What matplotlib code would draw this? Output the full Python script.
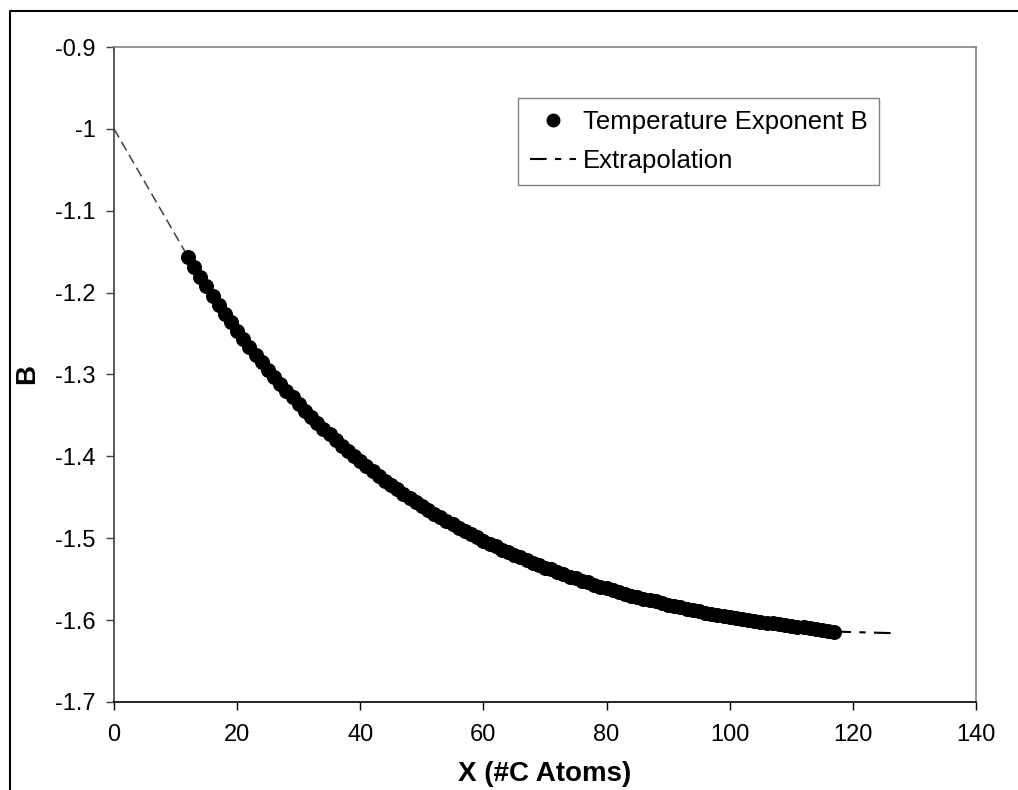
import numpy as np
import matplotlib
matplotlib.use("Agg")
import matplotlib.pyplot as plt
from matplotlib.lines import Line2D

plt.rcParams['font.family'] = ['Liberation Sans', 'DejaVu Sans']
plt.rcParams['axes.unicode_minus'] = False

# Temperature exponent B versus number of C atoms
x_atoms = list(range(12, 118))
b_values = [
    -1.156, -1.169, -1.181, -1.192, -1.204, -1.215, -1.226, -1.236, -1.247, -1.257,
    -1.266, -1.276, -1.285, -1.294, -1.303, -1.312, -1.320, -1.328, -1.336, -1.344,
    -1.352, -1.359, -1.366, -1.373, -1.380, -1.387, -1.394, -1.400, -1.406, -1.412,
    -1.418, -1.424, -1.430, -1.435, -1.440, -1.446, -1.451, -1.456, -1.461, -1.465,
    -1.470, -1.474, -1.479, -1.483, -1.487, -1.491, -1.495, -1.499, -1.503, -1.507,
    -1.510, -1.514, -1.517, -1.520, -1.523, -1.527, -1.530, -1.533, -1.536, -1.538,
    -1.541, -1.544, -1.547, -1.549, -1.552, -1.554, -1.557, -1.559, -1.561, -1.563,
    -1.566, -1.568, -1.570, -1.572, -1.574, -1.576, -1.577, -1.579, -1.581, -1.583,
    -1.584, -1.586, -1.588, -1.589, -1.591, -1.592, -1.594, -1.595, -1.596, -1.598,
    -1.599, -1.600, -1.601, -1.602, -1.603, -1.604, -1.605, -1.606, -1.607, -1.608,
    -1.609, -1.610, -1.611, -1.612, -1.613, -1.614,
]

# extrapolation segments
x_extra_low = [0, 12]
b_extra_low = [-1.0, -1.156]
x_extra_high = [117, 127]
b_extra_high = [-1.614, -1.616]

x_ticks = [0, 20, 40, 60, 80, 100, 120, 140]
y_ticks = [-1.7, -1.6, -1.5, -1.4, -1.3, -1.2, -1.1, -1.0, -0.9]

fig = plt.figure(figsize=(10.18, 7.9), dpi=100)
ax = fig.add_axes([0.112, 0.1114, 0.8467, 0.8291])

ax.plot(x_extra_low, b_extra_low, color='#404040', lw=1.1, dashes=(6.5, 3.3))
ax.plot(x_extra_high, b_extra_high, color='black', lw=1.5, dashes=(8, 4, 3, 4),
        label='Extrapolation')
ax.plot(x_atoms, b_values, 'o', color='black', ms=9.8, label='Temperature Exponent B')

ax.set_xlim(0, 140)
ax.set_ylim(-1.7, -0.9)
ax.set_xticks(x_ticks)
ax.set_yticks(y_ticks)
ax.set_xticklabels([str(t) for t in x_ticks])
ax.set_yticklabels(['%g' % t for t in y_ticks])
ax.tick_params(axis='both', labelsize=17, direction='out', length=6, width=1)
ax.tick_params(axis='y', colors='#404040', labelcolor='black', pad=7)
ax.tick_params(axis='x', colors='black', pad=10)

ax.spines['top'].set_color('#808080')
ax.spines['right'].set_color('#808080')
ax.spines['left'].set_color('#404040')
ax.spines['bottom'].set_color('black')
for s in ax.spines.values():
    s.set_linewidth(1.2)

ax.set_xlabel('X (#C Atoms)', fontsize=20, fontweight='bold', labelpad=11)
ax.set_ylabel('B', fontsize=20, fontweight='bold', labelpad=11)

handles, labels = ax.get_legend_handles_labels()
leg = ax.legend(handles[::-1], labels[::-1], loc='upper left',
                bbox_to_anchor=(0.469, 0.922), borderaxespad=0, fontsize=18.5,
                fancybox=False, framealpha=1, edgecolor='#808080',
                handlelength=1.8, handletextpad=0.25, borderpad=0.45, labelspacing=0.6)
leg.get_frame().set_linewidth(1.0)
for h in leg.legend_handles:
    if h.get_marker() == 'o':
        h.set_markersize(9)

# outer chart frame
fig.add_artist(Line2D([10 / 1018, 10 / 1018, 1.0], [0.0, 1 - 11 / 790, 1 - 11 / 790],
                      transform=fig.transFigure, color='black', lw=1.5))

fig.savefig('out.png', dpi=100)
